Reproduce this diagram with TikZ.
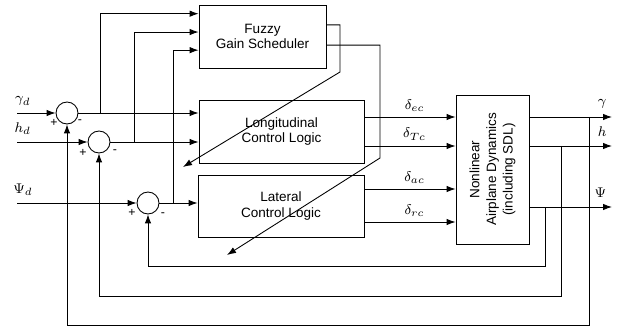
\documentclass[tikz,border=0pt]{standalone}
\usepackage{fontspec}
\setmainfont{Liberation Sans}
\usepackage{tikz}
\usetikzlibrary{arrows.meta, positioning, calc}
\tikzstyle{block} = [rectangle, draw=black, line width=0.5pt, align=center, inner sep=0pt, font=\fontsize{7.7}{9}\selectfont]
\tikzstyle{sumnode} = [circle, draw=black, line width=0.5pt, minimum size=0.44cm, inner sep=0pt]
\tikzstyle{arrow} = [line width=0.5pt, -{Latex[length=1.8mm,width=1.3mm]}]
\tikzstyle{wire} = [line width=0.5pt]
\tikzstyle{sig} = [inner sep=0pt, font=\fontsize{8}{9}\selectfont]
\tikzstyle{sgn} = [inner sep=0pt, font=\fontsize{7}{8}\selectfont]

\begin{document}
\begin{tikzpicture}[x=0.02cm, y=-0.02cm]
\useasboundingbox (0,0) rectangle (619,331);
% blocks
\node (fgs) [block, minimum width=2.54cm, minimum height=1.26cm] at (262.5,36.5) {Fuzzy\\Gain Scheduler};
\node (lon) [block, minimum width=3.3cm, minimum height=1.26cm] at (281.5,131.5) {Longitudinal\\Control Logic};
\node (lat) [block, minimum width=3.32cm, minimum height=1.24cm] at (281,206) {Lateral\\Control Logic};
\node (dyn) [block, minimum width=1.46cm, minimum height=2.98cm] at (492.5,169.5) {};
\node (dyntxt) [rotate=90, align=center, font=\fontsize{7.7}{9.5}\selectfont] at (dyn.center) {Nonlinear\\Airplane Dynamics\\(including SDL)};
% summing junctions
\node (s1) [sumnode] at (67,113) {};
\node (s2) [sumnode] at (99,142) {};
\node (s3) [sumnode] at (148,203) {};
\node [sgn] at (54,123) {+};
\node [sgn] at (80,122) {-};
\node [sgn] at (83,153) {+};
\node [sgn] at (115,152) {-};
\node [sgn] at (132,213) {+};
\node [sgn] at (163,215) {-};
% references
\coordinate (gin) at (17,113);
\coordinate (hin) at (17,142);
\coordinate (pin) at (17,203);
\draw [arrow] (gin) -- node[sig, above=4pt, pos=0.15]{$\gamma_d$} (s1);
\draw [arrow] (hin) -- node[sig, above=4pt, pos=0.08]{$h_d$} (s2);
\draw [arrow] (pin) -- node[sig, above=4pt, pos=0.05]{$\Psi_d$} (s3);
% errors to control logic
\draw [arrow] (s1) -- (lon.west |- s1);
\draw [arrow] (s2) -- (lon.west |- s2);
\draw [arrow] (s3) -- (lat.west |- s3);
% scheduler inputs
\coordinate (t1) at (100,113);
\coordinate (t2) at (134,142);
\coordinate (t3) at (173,203);
\draw [arrow] (t1) |- ($(fgs.north west)!0.143!(fgs.south west)$);
\draw [arrow] (t2) |- ($(fgs.north west)!0.43!(fgs.south west)$);
\draw [arrow] (t3) |- ($(fgs.north west)!0.714!(fgs.south west)$);
% scheduled gains
\coordinate (g1) at (183,167);
\coordinate (g2) at (227,255);
\draw [arrow] ($(fgs.north east)!0.317!(fgs.south east)$) -| (340,72) -- (g1);
\draw [arrow] ($(fgs.north east)!0.635!(fgs.south east)$) -| (380,158) -- (g2);
% control commands
\coordinate (yec) at (0,117);
\coordinate (ytc) at (0,146);
\coordinate (yac) at (0,189);
\coordinate (yrc) at (0,222);
\draw [arrow] (lon.east |- yec) -- node[sig, above=3pt, pos=0.55]{$\delta_{ec}$} (dyn.west |- yec);
\draw [arrow] (lon.east |- ytc) -- node[sig, above=3pt, pos=0.55]{$\delta_{Tc}$} (dyn.west |- ytc);
\draw [arrow] (lat.east |- yac) -- node[sig, above=3pt, pos=0.55]{$\delta_{ac}$} (dyn.west |- yac);
\draw [arrow] (lat.east |- yrc) -- node[sig, above=3pt, pos=0.55]{$\delta_{rc}$} (dyn.west |- yrc);
% outputs
\coordinate (go) at (612,117);
\coordinate (ho) at (612,146);
\coordinate (po) at (612,207);
\draw [arrow] (dyn.east |- go) -- node[sig, above=5pt, pos=0.88]{$\gamma$} (go);
\draw [arrow] (dyn.east |- ho) -- node[sig, above=5pt, pos=0.88]{$h$} (ho);
\draw [arrow] (dyn.east |- po) -- node[sig, above=5pt, pos=0.86]{$\Psi$} (po);
% feedback
\coordinate (fg) at (589,117);
\coordinate (fh) at (561,146);
\coordinate (fp) at (545,207);
\draw [arrow] (fg) -- (589,325) -| (s1.south);
\draw [arrow] (fh) -- (561,296) -| (s2.south);
\draw [arrow] (fp) -- (545,266) -| (s3.south);
\end{tikzpicture}
\end{document}
